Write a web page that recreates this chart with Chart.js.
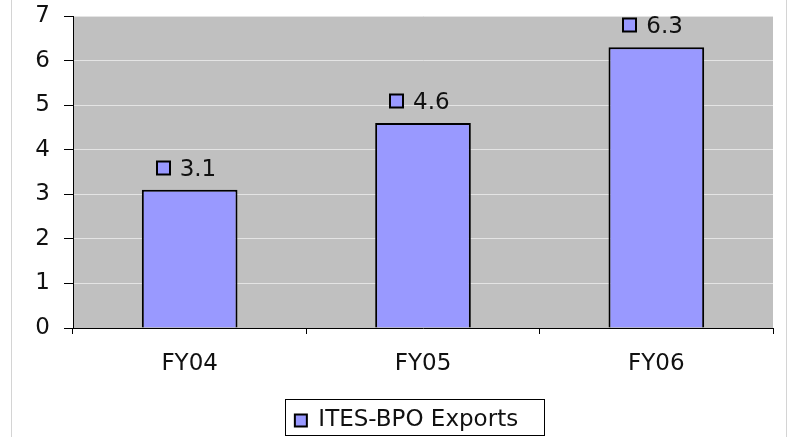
<!DOCTYPE html>
<html>
<head>
<meta charset="utf-8">
<script src="https://cdn.jsdelivr.net/npm/chart.js@4/dist/chart.umd.min.js"></script>
<style>
  html, body { margin: 0; padding: 0; background: #fff; }
  #wrap { width: 793px; height: 439px; position: relative; }
</style>
</head>
<body>
<div id="wrap"><canvas id="graph"></canvas></div>
<script>
// chart data
var labels = ['FY04', 'FY05', 'FY06'];
var exports = [3.1, 4.6, 6.3];
var seriesName = 'ITES-BPO Exports';
var yTicks = [0, 1, 2, 3, 4, 5, 6, 7];

var barFill = '#9999FF';

Chart.defaults.font.family = 'DejaVu Sans';
Chart.defaults.font.size = 23;
Chart.defaults.color = '#111';

// grey plot area + frame lines at the sides
const plotBg = {
  id: 'plotBg',
  beforeDraw(chart){
    var ctx = chart.ctx, a = chart.chartArea;
    ctx.save();
    ctx.fillStyle = '#C0C0C0';
    ctx.fillRect(a.left, a.top, a.right - a.left, a.bottom - a.top);
    ctx.strokeStyle = '#d4d4d4';
    ctx.lineWidth = 1;
    ctx.beginPath();
    ctx.moveTo(11.5, 0); ctx.lineTo(11.5, 437);
    ctx.moveTo(786.5, 0); ctx.lineTo(786.5, 437);
    ctx.stroke();
    ctx.restore();
  }
};

// value labels with the little legend key in front
const valueLabels = {
  id: 'valueLabels',
  afterDatasetsDraw(chart){
    var ctx = chart.ctx;
    var meta = chart.getDatasetMeta(0);
    ctx.save();
    ctx.font = '23px DejaVu Sans';
    ctx.textBaseline = 'middle';
    ctx.textAlign = 'left';
    meta.data.forEach(function(bar, i){
      var txt = String(exports[i]);
      var x0 = Math.round(bar.x - 33);
      var cy = Math.round(bar.y - 22);
      ctx.fillStyle = barFill;
      ctx.fillRect(x0, cy - 6.5, 13, 13);
      ctx.strokeStyle = '#000';
      ctx.lineWidth = 2;
      ctx.strokeRect(x0, cy - 6.5, 13, 13);
      ctx.fillStyle = '#111';
      ctx.fillText(txt, bar.x - 10, cy + 2);
    });
    ctx.restore();
  }
};

// box round the legend
const legendBox = {
  id: 'legendBox',
  afterDraw(chart){
    var hb = chart.legend.legendHitBoxes[0];
    if(!hb) return;
    var ctx = chart.ctx;
    ctx.save();
    ctx.strokeStyle = '#000';
    ctx.lineWidth = 1;
    var l = Math.round(hb.left - 10);
    var r = Math.round(hb.left + hb.width + 26);
    ctx.strokeRect(l + 0.5, 399.5, r - l, 36);
    ctx.restore();
  }
};

const data = {
  labels: labels,
  datasets: [{
    label: seriesName,
    data: exports,
    backgroundColor: barFill,
    borderColor: '#000',
    borderWidth: 2,
    barPercentage: 0.41,
    categoryPercentage: 1
  }]
};

const bar = {
  type: 'bar',
  data: data,
  options: {
    responsive: true,
    maintainAspectRatio: false,
    animation: false,
    layout: { padding: { left: 20, right: 0, top: 16, bottom: -3 } },
    plugins: {
      legend: {
        position: 'bottom',
        labels: {
          boxWidth: 12,
          boxHeight: 12,
          padding: 10,
          color: '#111',
          font: { size: 23 }
        }
      },
      tooltip: { enabled: false }
    },
    scales: {
      x: {
        grid: { display: true, drawOnChartArea: false, tickLength: 6, color: '#000', offset: true },
        border: { color: '#000', width: 1 },
        ticks: { padding: 16, font: { size: 23 } },
        afterFit: function(s){ s.height = 114 - s.chart.legend.height; }
      },
      y: {
        min: 0,
        max: 7,
        afterBuildTicks: function(s){ s.ticks = yTicks.map(function(v){ return { value: v }; }); },
        grid: { color: '#e4e4e4', tickColor: '#000', tickLength: 9, lineWidth: 1 },
        border: { color: '#000', width: 1 },
        ticks: { padding: 14, font: { size: 23 } },
        afterFit: function(s){ s.width = 53; s.paddingTop = 0; s.paddingBottom = 0; }
      },
      yR: {
        position: 'right',
        display: true,
        grid: { display: false },
        border: { display: false },
        ticks: { display: false },
        afterFit: function(s){ s.width = 20; s.paddingTop = 0; s.paddingBottom = 0; }
      }
    }
  },
  plugins: [plotBg, valueLabels, legendBox]
};

var chart = new Chart(document.getElementById('graph'), bar);
</script>
</body>
</html>
